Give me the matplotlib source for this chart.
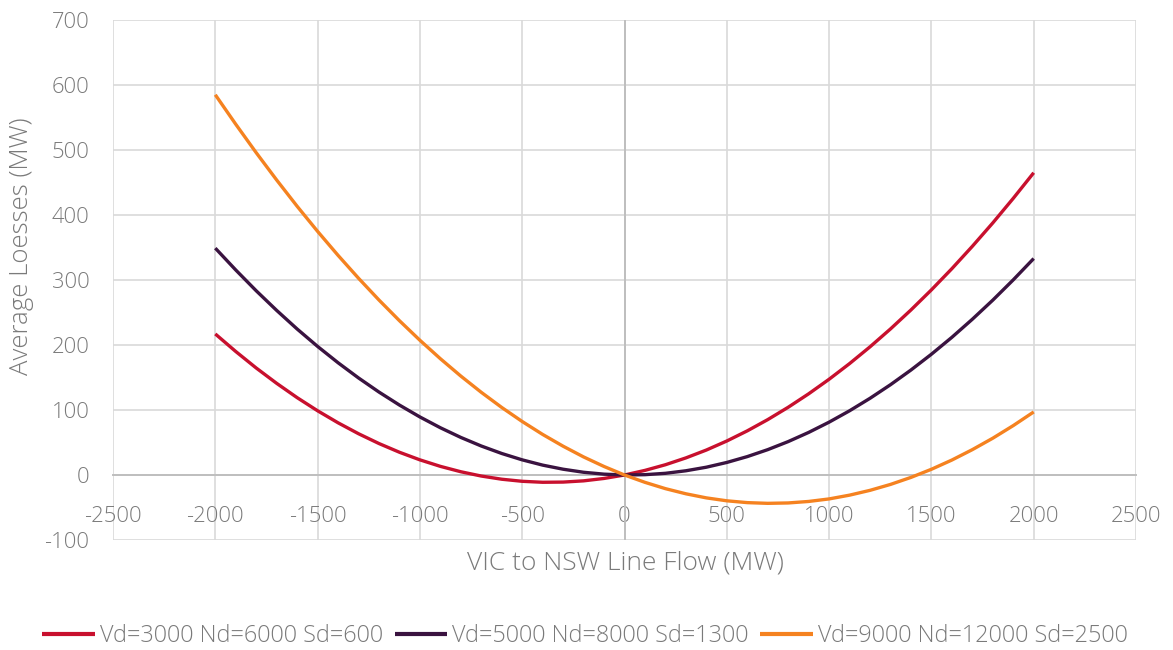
import matplotlib
matplotlib.use("Agg")
import matplotlib.pyplot as plt

plt.rcParams['font.family'] = ['Open Sans', 'DejaVu Sans']
plt.rcParams['axes.unicode_minus'] = False

flow = [-2000, -1900, -1800, -1700, -1600, -1500, -1400, -1300, -1200, -1100, -1000,
        -900, -800, -700, -600, -500, -400, -300, -200, -100, 0,
        100, 200, 300, 400, 500, 600, 700, 800, 900, 1000,
        1100, 1200, 1300, 1400, 1500, 1600, 1700, 1800, 1900, 2000]
loss_a = [217, 190.0, 164.6, 141.0, 119.0, 98.8, 80.3, 63.5, 48.4, 35.0, 23.3,
          13.3, 5.0, -1.6, -6.5, -9.7, -11.2, -10.9, -9.0, -5.3, 0,
          7.1, 15.8, 26.3, 38.4, 52.3, 67.9, 85.2, 104.2, 124.9, 147.3,
          171.4, 197.2, 224.7, 253.9, 284.8, 317.4, 351.8, 387.8, 425.6, 465]
loss_b = [349, 315.4, 283.4, 253.2, 224.6, 197.8, 172.7, 149.3, 127.6, 107.6, 89.3,
          72.7, 57.8, 44.6, 33.1, 23.3, 15.2, 8.9, 4.2, 1.3, 0,
          0.5, 2.6, 6.5, 12.0, 19.3, 28.3, 39.0, 51.4, 65.5, 81.3,
          98.8, 118.0, 138.9, 161.5, 185.8, 211.8, 239.6, 269.0, 300.2, 333]
loss_c = [585, 539.6, 495.8, 453.8, 413.4, 374.8, 337.9, 302.7, 269.2, 237.4, 207.3,
          178.9, 152.2, 127.2, 103.9, 82.3, 62.4, 44.3, 27.8, 13.1, 0,
          -11.3, -21.0, -28.9, -35.2, -39.7, -42.5, -43.6, -43.0, -40.7, -36.8,
          -31.0, -23.6, -14.5, -3.7, 8.8, 23.0, 39.0, 56.6, 76.0, 97]
labels = ["Vd=3000 Nd=6000 Sd=600", "Vd=5000 Nd=8000 Sd=1300", "Vd=9000 Nd=12000 Sd=2500"]
colors = ["#C8102E", "#3A1340", "#F58220"]
x_ticks = [-2500, -2000, -1500, -1000, -500, 0, 500, 1000, 1500, 2000, 2500]
y_ticks = [-100, 0, 100, 200, 300, 400, 500, 600, 700]

txt = "#7A7A7A"
fig = plt.figure(figsize=(11.73, 6.5), dpi=100)
ax = fig.add_axes([113/1173, 110/650, (1136-113)/1173, 520/650])

for ys, lab, c in zip([loss_a, loss_b, loss_c], labels, colors):
    ax.plot(flow, ys, color=c, lw=2.4, label=lab, solid_capstyle='butt', zorder=3)

ax.set_xlim(-2500, 2500)
ax.set_ylim(-100, 700)
ax.set_xticks(x_ticks)
ax.set_yticks(y_ticks)
ax.grid(True, color="#D9D9D9", lw=1.2, zorder=0)
ax.set_axisbelow(True)
for s in ['top', 'right', 'left']:
    ax.spines[s].set_visible(False)
ax.spines['bottom'].set_position(('data', 0))
ax.spines['bottom'].set_color("#BFBFBF")
ax.spines['bottom'].set_linewidth(1.4)
ax.axvline(0, color="#BFBFBF", lw=1.4, zorder=1)
ax.tick_params(axis='x', length=0, pad=22, labelsize=15.8, labelcolor=txt)
ax.tick_params(axis='y', length=0, pad=17, labelsize=15.8, labelcolor=txt)
for t in ax.get_xticklabels() + ax.get_yticklabels():
    t.set_fontweight('light')

fig.text(22/1173, 1 - 246/650, "Average Loesses (MW)", rotation=90, ha='center', va='center',
         fontsize=18.5, color=txt, fontweight='light')
fig.text(625/1173, 1 - 563/650, "VIC to NSW Line Flow (MW)", ha='center', va='center',
         fontsize=19, color=txt, fontweight='light')

leg = fig.legend(loc='center', bbox_to_anchor=(585/1173, 1 - 636/650), ncol=3, frameon=False,
                 prop={'size': 16.8, 'weight': 'light'}, handlelength=2.25, handletextpad=0.21,
                 columnspacing=0.5, labelcolor=txt)
for h in leg.get_lines():
    h.set_linewidth(3.0)

fig.savefig("out.png", dpi=100)
